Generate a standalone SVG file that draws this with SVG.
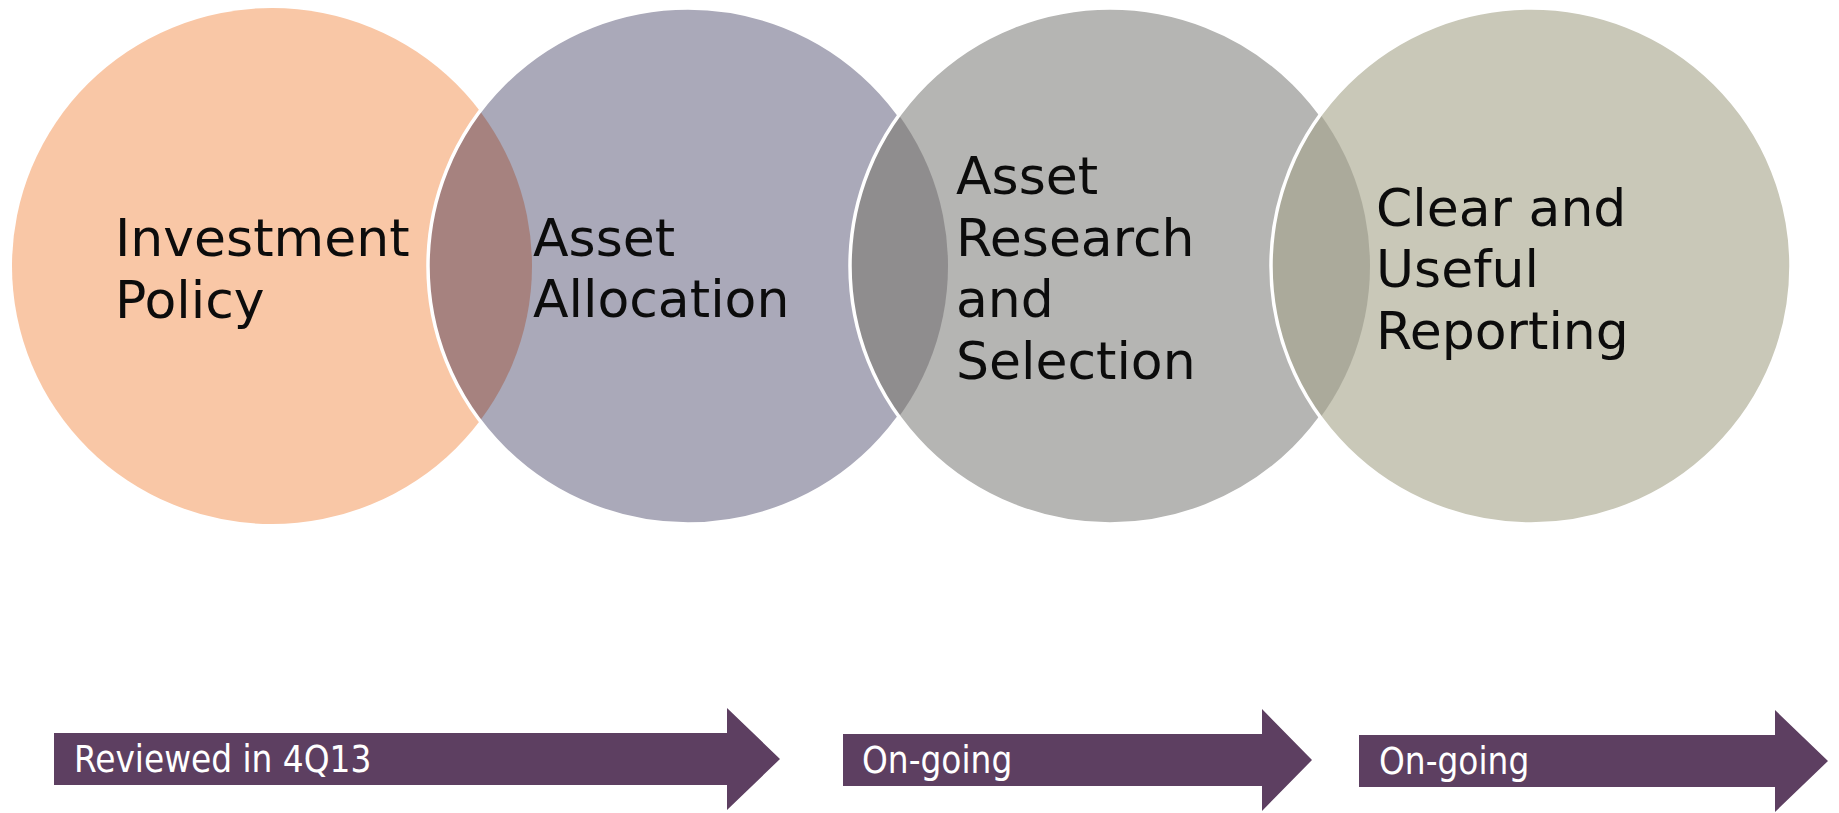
<svg xmlns="http://www.w3.org/2000/svg" width="1839" height="813" viewBox="0 0 1839 813">
  <style>
    .lbl { font-family: "DejaVu Sans", "Liberation Sans", sans-serif; font-size: 52px; fill: #0c0c0c; }
    .tag { font-family: "DejaVu Sans Condensed", "DejaVu Sans", sans-serif; font-stretch: condensed; font-size: 36.5px; fill: #ffffff; }
    .ring { fill: none; stroke: #ffffff; stroke-width: 3.5; }
    .arrow { fill: #5D3F61; }
  </style>
  <defs>
    <clipPath id="clip-c2"><ellipse cx="688" cy="266" rx="260" ry="258"/></clipPath>
    <clipPath id="clip-c3"><ellipse cx="1110" cy="266" rx="260" ry="258"/></clipPath>
    <clipPath id="clip-c4"><ellipse cx="1531" cy="266" rx="260" ry="258"/></clipPath>
  </defs>
  <rect width="1839" height="813" fill="#ffffff"/>

  <!-- process stages -->
  <g id="node-investment-policy">
    <ellipse cx="272" cy="266" rx="260" ry="258" fill="#F9C7A6"/>
    <text class="lbl" x="115" y="256">Investment</text>
    <text class="lbl" x="115" y="318">Policy</text>
  </g>

  <g id="node-asset-allocation">
    <ellipse cx="688" cy="266" rx="260" ry="258" fill="#AAA9B9"/>
    <ellipse cx="272" cy="266" rx="260" ry="258" fill="#A6827F" clip-path="url(#clip-c2)"/>
    <ellipse class="ring" cx="688" cy="266" rx="260" ry="258"/>
    <text class="lbl" x="533" y="256">Asset</text>
    <text class="lbl" x="533" y="317">Allocation</text>
  </g>

  <g id="node-asset-research">
    <ellipse cx="1110" cy="266" rx="260" ry="258" fill="#B5B5B3"/>
    <ellipse cx="688" cy="266" rx="260" ry="258" fill="#8F8D8E" clip-path="url(#clip-c3)"/>
    <ellipse class="ring" cx="1110" cy="266" rx="260" ry="258"/>
    <text class="lbl" x="956" y="194">Asset</text>
    <text class="lbl" x="956" y="256">Research</text>
    <text class="lbl" x="956" y="317">and</text>
    <text class="lbl" x="956" y="379">Selection</text>
  </g>

  <g id="node-reporting">
    <ellipse cx="1531" cy="266" rx="260" ry="258" fill="#C9C8B8"/>
    <ellipse cx="1110" cy="266" rx="260" ry="258" fill="#ABAA9B" clip-path="url(#clip-c4)"/>
    <ellipse class="ring" cx="1531" cy="266" rx="260" ry="258"/>
    <text class="lbl" x="1376" y="226">Clear and</text>
    <text class="lbl" x="1376" y="287">Useful</text>
    <text class="lbl" x="1376" y="349">Reporting</text>
  </g>

  <!-- status arrows -->
  <g id="connectors">
    <g id="arrow-reviewed">
      <path class="arrow" d="M54,733 H727 V708 L780,759 L727,810 V785 H54 Z"/>
      <text class="tag" x="74" y="772">Reviewed in 4Q13</text>
    </g>
    <g id="arrow-ongoing-1">
      <path class="arrow" d="M843,734 H1262 V709 L1312,760 L1262,811 V786 H843 Z"/>
      <text class="tag" x="862" y="773">On-going</text>
    </g>
    <g id="arrow-ongoing-2">
      <path class="arrow" d="M1359,735 H1775 V710 L1828,761 L1775,812 V787 H1359 Z"/>
      <text class="tag" x="1379" y="774">On-going</text>
    </g>
  </g>
</svg>
